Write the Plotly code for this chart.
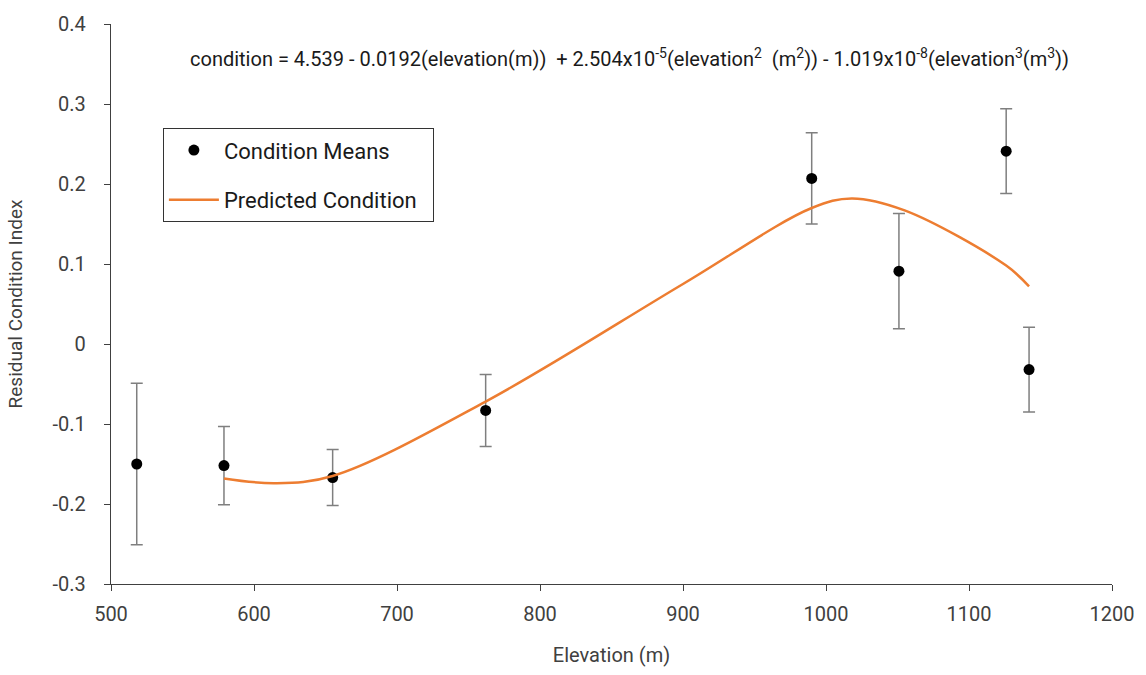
import plotly.graph_objects as go

# Condition means (observed)
elev_means = [518, 579, 655, 762, 990, 1051, 1126, 1142]
cond_means = [-0.150, -0.152, -0.167, -0.083, 0.207, 0.091, 0.241, -0.032]
cond_err = [0.101, 0.049, 0.035, 0.045, 0.057, 0.072, 0.053, 0.053]

# Predicted condition curve
elev_pred = [579, 615, 655, 762, 900, 990, 1018, 1055, 1126, 1142]
cond_pred = [-0.168, -0.174, -0.165, -0.072, 0.075, 0.170, 0.182, 0.167, 0.098, 0.072]

x_ticks = [500, 600, 700, 800, 900, 1000, 1100, 1200]
y_ticks = [-0.3, -0.2, -0.1, 0, 0.1, 0.2, 0.3, 0.4]
y_labels = ["-0.3", "-0.2", "-0.1", "0", "0.1", "0.2", "0.3", "0.4"]

FONT = "Roboto, Liberation Sans, sans-serif"
TXT = "#404040"

L, R, T, B = 111, 1114, 20, 584

fig = go.Figure()
fig.add_trace(go.Scatter(
    x=elev_means, y=cond_means, mode="markers", name="Condition Means  ",
    legendgroup="a",
    marker=dict(color="black", size=11),
    error_y=dict(type="data", array=cond_err, color="#7f7f7f", thickness=1.5, width=6),
))
fig.add_trace(go.Scatter(
    x=elev_pred, y=cond_pred, mode="lines", name="Predicted Condition  ",
    legendgroup="b",
    line=dict(color="#ED7D31", width=2.5, shape="spline", smoothing=1.0),
))

fig.add_annotation(
    x=(631 - L) / (R - L), y=(B - 54) / (B - T), xref="paper", yref="paper",
    xanchor="center", yanchor="middle", showarrow=False,
    text="condition = 4.539 - 0.0192(elevation(m))  + 2.504x10<sup>-5</sup>(elevation<sup>2</sup>  (m<sup>2</sup>)) - 1.019x10<sup>-8</sup>(elevation<sup>3</sup>(m<sup>3</sup>))",
    font=dict(family=FONT, size=20, color="#1a1a1a"),
)

fig.update_layout(
    width=1146, height=675,
    margin=dict(l=L, r=1146 - R, t=T, b=675 - B),
    paper_bgcolor="white", plot_bgcolor="white",
    font=dict(family=FONT, color=TXT, size=19),
    showlegend=True,
    legend=dict(
        x=(163 - L) / (R - L), y=(B - 125) / (B - T),
        xanchor="left", yanchor="top",
        bgcolor="white", bordercolor="#333333", borderwidth=1,
        font=dict(family=FONT, size=22, color="#1a1a1a"),
        tracegroupgap=18, itemwidth=50,
    ),
    xaxis=dict(
        range=[500, 1200], tickvals=x_ticks, ticks="outside", ticklen=6,
        tickcolor="#404040", showline=True, linecolor="#404040", linewidth=1.3,
        showgrid=False, zeroline=False,
        title=dict(text="Elevation (m)", font=dict(size=20, color=TXT), standoff=22),
        tickfont=dict(size=20, color=TXT), ticklabelstandoff=6,
    ),
    yaxis=dict(
        range=[-0.3, 0.4], tickvals=y_ticks, ticktext=y_labels, ticks="outside", ticklen=6,
        tickcolor="#404040", showline=True, linecolor="#404040", linewidth=1.3,
        showgrid=False, zeroline=False,
        title=dict(text="Residual Condition Index", font=dict(size=19, color=TXT), standoff=24),
        tickfont=dict(size=20, color=TXT), ticklabelstandoff=14,
    ),
)

fig.write_html("out.html")
